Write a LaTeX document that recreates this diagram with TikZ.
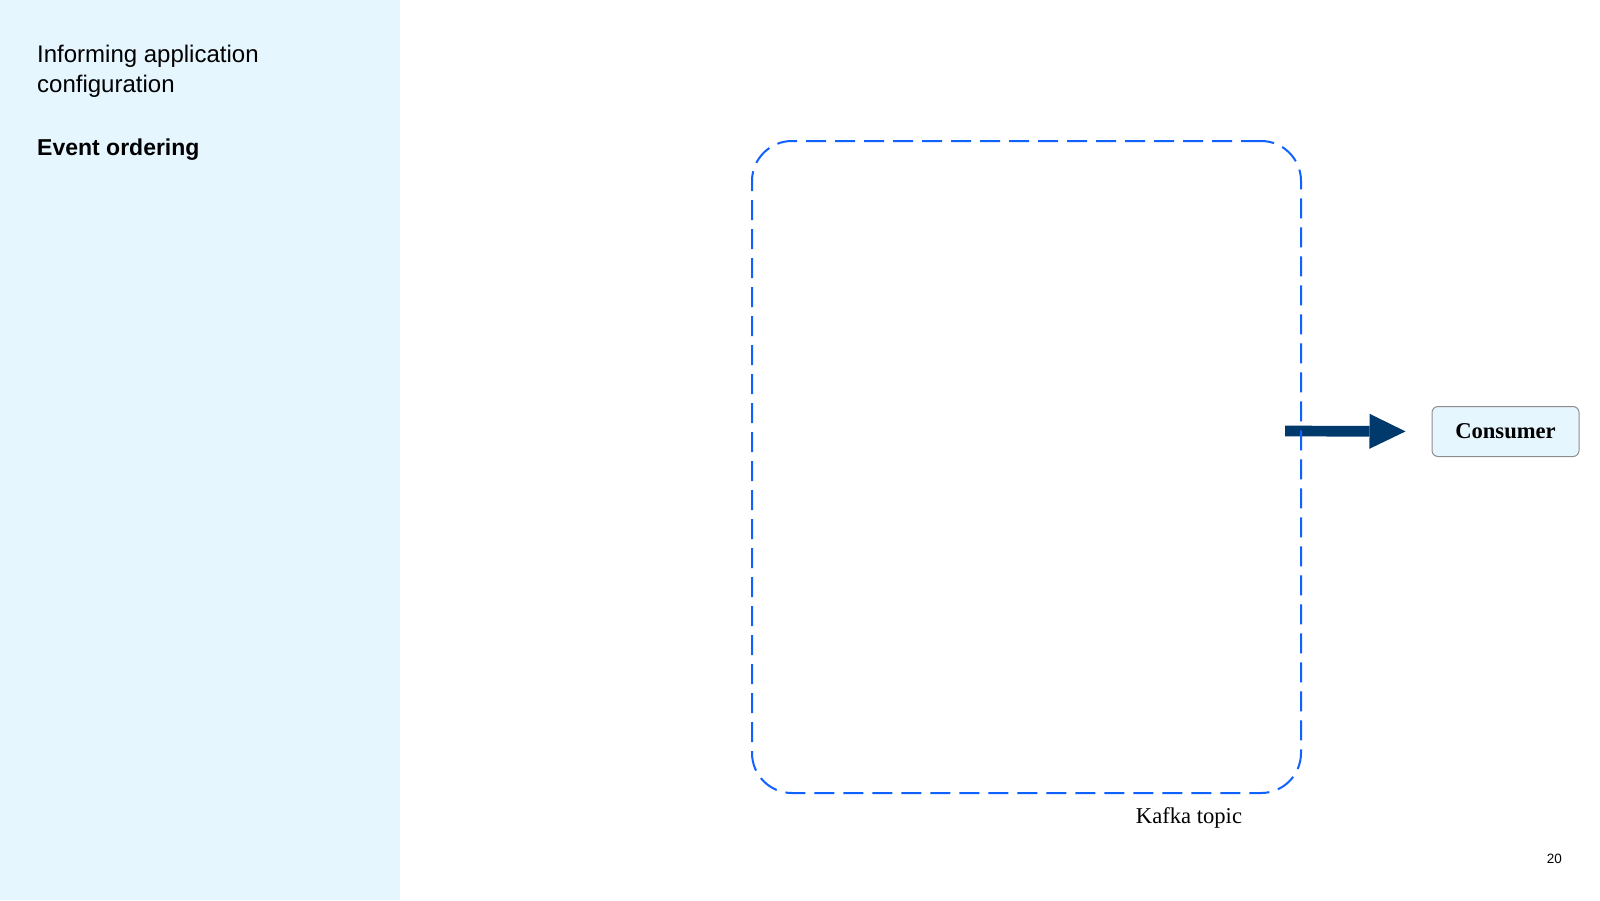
\documentclass[tikz,border=0pt]{standalone}
\usepackage{fontspec}
\setmainfont{Liberation Serif}
\setsansfont{Liberation Sans}
\usetikzlibrary{arrows.meta}
\definecolor{sidebar}{HTML}{E5F6FF}
\definecolor{topicblue}{HTML}{0F62FE}
\definecolor{flowblue}{HTML}{003A6D}
\definecolor{boxgray}{HTML}{8D8D8D}

\begin{document}
\begin{tikzpicture}[x=1pt,y=-1pt,
  topicbox/.style={draw=topicblue, line width=2pt, dash pattern=on 20pt off 9pt, rounded corners=40pt, inner sep=0pt},
  consumerbox/.style={draw=boxgray, fill=sidebar, line width=1pt, rounded corners=6pt, minimum width=147pt, minimum height=50pt, font=\fontsize{22.6}{26}\selectfont\bfseries},
  flow/.style={draw=flowblue, line width=10.7pt, -{Triangle[length=36pt,width=35pt,line width=0pt]}}]
\useasboundingbox (0,0) rectangle (1600,900);
\fill[sidebar] (0,0) rectangle (400,900);
\node[anchor=base west, inner sep=0pt, align=left, font=\sffamily\fontsize{24}{30}\selectfont] (section) at (37,92) {Informing application\\configuration};
\node[anchor=base west, inner sep=0pt, font=\sffamily\bfseries\fontsize{23}{30}\selectfont] (current) at (37,155) {Event ordering};
\node[consumerbox] (consumer) at (1505.5,431.5) {Consumer};
\coordinate (topicout) at (1285,431);
\draw[flow, shorten >=26pt] (topicout) -- (consumer.west);
\node[topicbox, minimum width=549pt, minimum height=652pt] (topic) at (1026.5,467) {};
\node[anchor=base, font=\fontsize{22.6}{26}\selectfont] (topiclabel) at (1189,823) {Kafka topic};
\node[anchor=base east, inner sep=0pt, font=\sffamily\fontsize{13.5}{16}\selectfont] (pagenum) at (1562,863) {20};
\end{tikzpicture}
\end{document}
